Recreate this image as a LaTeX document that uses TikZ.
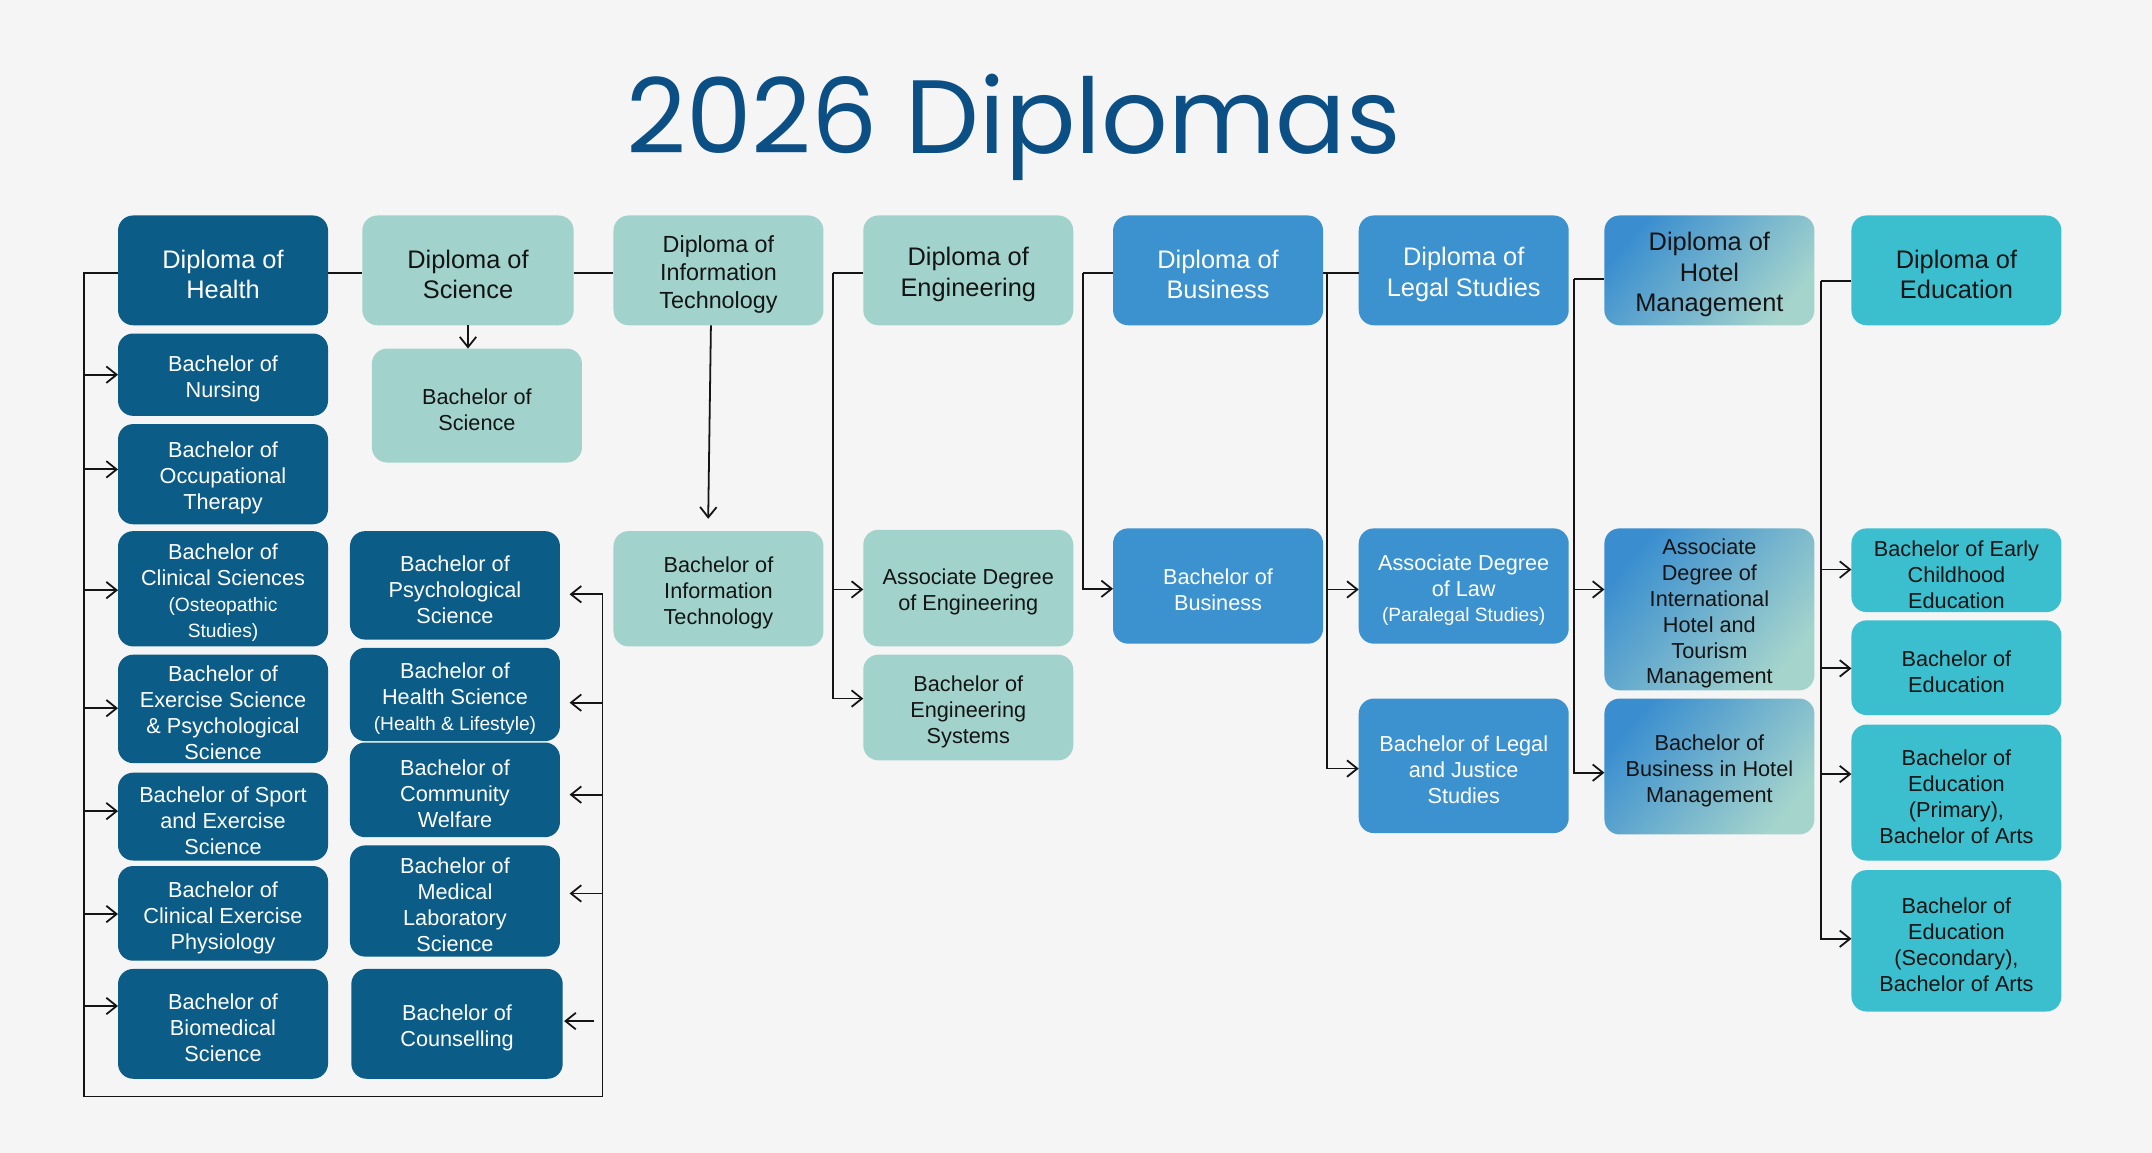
\documentclass[tikz,border=0pt]{standalone}
\usepackage{fontspec}
\setmainfont{Liberation Sans}
\newfontfamily\titlefont{Poppins}
\usetikzlibrary{arrows.meta}
\definecolor{bg}{HTML}{F5F5F5}
\definecolor{hdark}{HTML}{0B5C87}
\definecolor{lteal}{HTML}{A1D3CC}
\definecolor{bblue}{HTML}{3C91CF}
\definecolor{eteal}{HTML}{3BBFCE}
\definecolor{hotA}{HTML}{3A8ECF}
\definecolor{hotB}{HTML}{A5D4CC}
\definecolor{ttl}{HTML}{0B4F85}
\definecolor{ink}{HTML}{141414}
% #1 name, #2-#5 corners (x1,y1,x2,y2), #6 box style, #7 text style, #8 text
\newcommand\bx[8]{%
  \node[box,#6,minimum width={(#4-#2)*1pt},minimum height={(#5-#3)*1pt}] (#1) at ({(#2+#4)/2},{-(#3+#5)/2}) {};
  \node[lbl,#7] (#1t) at ([yshift=-3pt]#1.center) {#8};}
\newcommand\sm{\fontsize{14}{17.5}\selectfont}
\begin{document}
\begin{tikzpicture}[x=1pt,y=1pt,
  box/.style={rectangle, rounded corners=11pt, inner sep=0pt, outer sep=0pt},
  lbl/.style={inner sep=0pt, align=center, font=\fontsize{15.8}{18.9}\selectfont},
  dip/.style={font=\fontsize{18.5}{22.3}\selectfont},
  dipit/.style={font=\fontsize{17}{20.3}\selectfont},
  cH/.style={fill=hdark},
  cS/.style={fill=lteal},
  cB/.style={fill=bblue},
  cE/.style={fill=eteal},
  cHo/.style={left color=hotA,right color=hotB,shading angle=50},
  tw/.style={text=white},
  tk/.style={text=ink},
  ln/.style={draw=ink,line width=1.3pt},
  arr/.style={ln,-{Straight Barb[length=7.5pt,width=12pt]}},
]
\fill[bg] (0,0) rectangle (1568,-840);
\useasboundingbox (0,0) rectangle (1568,-840);

\node[font=\titlefont\fontsize{76}{80}\selectfont, text=ttl, anchor=base] (title) at (738.5,-112) {2026 Diplomas};

% Health column
\bx{dH}{86}{157}{239}{237}{cH}{tw,dip}{Diploma of\\Health}
\bx{bNur}{86}{243}{239}{303}{cH}{tw}{Bachelor of\\Nursing}
\bx{bOT}{86}{309}{239}{382}{cH}{tw}{Bachelor of\\Occupational\\Therapy}
\bx{bCS}{86}{387}{239}{471}{cH}{tw}{Bachelor of\\Clinical Sciences\\\sm (Osteopathic\\\sm Studies)}
\bx{bEx}{86}{477}{239}{556}{cH}{tw}{Bachelor of\\Exercise Science\\\& Psychological\\Science}
\bx{bSp}{86}{563}{239}{627}{cH}{tw}{Bachelor of Sport\\and Exercise\\Science}
\bx{bCE}{86}{631}{239}{700}{cH}{tw}{Bachelor of\\Clinical Exercise\\Physiology}
\bx{bBio}{86}{706}{239}{786}{cH}{tw}{Bachelor of\\Biomedical\\Science}
% second health column
\bx{bPsy}{255}{387}{408}{466}{cH}{tw}{Bachelor of\\Psychological\\Science}
\bx{bHS}{255}{472}{408}{540}{cH}{tw}{Bachelor of\\Health Science\\\sm (Health \& Lifestyle)}
\bx{bCW}{255}{541}{408}{610}{cH}{tw}{Bachelor of\\Community\\Welfare}
\bx{bMLS}{255}{616}{408}{697}{cH}{tw}{Bachelor of\\Medical\\Laboratory\\Science}
\bx{bCo}{256}{706}{410}{786}{cH}{tw}{Bachelor of\\Counselling}
% Science
\bx{dS}{264}{157}{418}{237}{cS}{tk,dip}{Diploma of\\Science}
\bx{bS}{271}{254}{424}{337}{cS}{tk}{Bachelor of\\Science}
% IT
\bx{dIT}{447}{157}{600}{237}{cS}{tk,dipit}{Diploma of\\Information\\Technology}
\bx{bIT}{447}{387}{600}{471}{cS}{tk}{Bachelor of\\Information\\Technology}
% Engineering
\bx{dE}{629}{157}{782}{237}{cS}{tk,dip}{Diploma of\\Engineering}
\bx{aE}{629}{386}{782}{471}{cS}{tk}{Associate Degree\\of Engineering}
\bx{bEn}{629}{477}{782}{554}{cS}{tk}{Bachelor of\\Engineering\\Systems}
% Business
\bx{dB}{811}{157}{964}{237}{cB}{tw,dip}{Diploma of\\Business}
\bx{bB}{811}{385}{964}{469}{cB}{tw}{Bachelor of\\Business}
% Legal
\bx{dL}{990}{157}{1143}{237}{cB}{tw,dip}{Diploma of\\Legal Studies}
\bx{aL}{990}{385}{1143}{469}{cB}{tw}{Associate Degree\\of Law\\\sm (Paralegal Studies)}
\bx{bL}{990}{509}{1143}{607}{cB}{tw}{Bachelor of Legal\\and Justice\\Studies}
% Hotel
\bx{dHo}{1169}{157}{1322}{237}{cHo}{tk,dip}{Diploma of\\Hotel\\Management}
\bx{aHo}{1169}{385}{1322}{503}{cHo}{tk}{Associate\\Degree of\\International\\Hotel and\\Tourism\\Management}
\bx{bHo}{1169}{509}{1322}{608}{cHo}{tk}{Bachelor of\\Business in Hotel\\Management}
% Education
\bx{dEd}{1349}{157}{1502}{237}{cE}{tk,dip}{Diploma of\\Education}
\bx{e1}{1349}{385}{1502}{446}{cE}{tk}{Bachelor of Early\\Childhood\\Education}
\bx{e2}{1349}{452}{1502}{521}{cE}{tk}{Bachelor of\\Education}
\bx{e3}{1349}{528}{1502}{627}{cE}{tk}{Bachelor of\\Education\\(Primary),\\Bachelor of Arts}
\bx{e4}{1349}{634}{1502}{737}{cE}{tk}{Bachelor of\\Education\\(Secondary),\\Bachelor of Arts}

% connector coordinates
\coordinate (LT) at (61,-199);
\coordinate (LB) at (61,-799);
\coordinate (RB) at (439,-799);
\coordinate (RT) at (439,-433);
\coordinate (CC) at (433,-744);
\coordinate (ET) at (607,-199);
\coordinate (EB) at (607,-509);
\coordinate (BT) at (789,-199);
\coordinate (BB) at (789,-429);
\coordinate (GT) at (967,-199);
\coordinate (GB) at (967,-560);
\coordinate (HT) at (1147,-203);
\coordinate (HB) at (1147,-563);
\coordinate (DT) at (1327,-205);
\coordinate (DB) at (1327,-684);

% top links
\draw[ln] (dH.east|-LT) -- (dS.west|-LT);
\draw[ln] (dS.east|-LT) -- (dIT.west|-LT);
\draw[arr] (dS.south) -- (dS.south|-bS.north);
\draw[arr] ([xshift=-5.5pt]dIT.south) -- ([xshift=-7.5pt,yshift=9pt]bIT.north);

% health bracket
\draw[ln] (dH.west|-LT) -- (LT) -- (LB) -- (RB) -- (RT);
\draw[arr] (LT|-0,-273) -- (bNur.west|-0,-273);
\draw[arr] (LT|-0,-342) -- (bOT.west|-0,-342);
\draw[arr] (LT|-0,-430) -- (bCS.west|-0,-430);
\draw[arr] (LT|-0,-516) -- (bEx.west|-0,-516);
\draw[arr] (LT|-0,-591) -- (bSp.west|-0,-591);
\draw[arr] (LT|-0,-666) -- (bCE.west|-0,-666);
\draw[arr] (LT|-0,-733) -- (bBio.west|-0,-733);
\draw[arr,shorten >=7pt] (RT) -- (bPsy.east|-RT);
\draw[arr,shorten >=7pt] (RT|-0,-512) -- (bHS.east|-0,-512);
\draw[arr,shorten >=7pt] (RT|-0,-579) -- (bCW.east|-0,-579);
\draw[arr,shorten >=7pt] (RT|-0,-651) -- (bMLS.east|-0,-651);
\draw[arr,shorten >=1pt] (CC) -- (bCo.east|-CC);

% engineering
\draw[ln] (ET) -- (dE.west|-ET);
\draw[arr] (ET|-0,-429.5) -- (aE.west|-0,-429.5);
\draw[arr] (ET) -- (EB) -- (bEn.west|-EB);

% business
\draw[ln] (BT) -- (dB.west|-BT);
\draw[arr] (BT) -- (BB) -- (bB.west|-BB);

% legal
\draw[ln] (dB.east|-GT) -- (dL.west|-GT);
\draw[arr] (GT|-0,-429.5) -- (aL.west|-0,-429.5);
\draw[arr] (GT) -- (GB) -- (bL.west|-GB);

% hotel
\draw[ln] (HT) -- (dHo.west|-HT);
\draw[arr] (HT|-0,-429.5) -- (aHo.west|-0,-429.5);
\draw[arr] (HT) -- (HB) -- (bHo.west|-HB);

% education
\draw[ln] (DT) -- (dEd.west|-DT);
\draw[arr] (DT|-0,-415) -- (e1.west|-0,-415);
\draw[arr] (DT|-0,-487) -- (e2.west|-0,-487);
\draw[arr] (DT|-0,-564) -- (e3.west|-0,-564);
\draw[arr] (DT) -- (DB) -- (e4.west|-DB);
\end{tikzpicture}
\end{document}
